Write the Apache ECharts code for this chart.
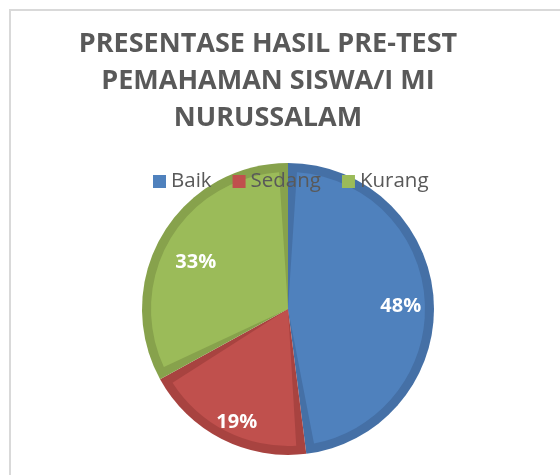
<!DOCTYPE html>
<html>
<head>
<meta charset="utf-8">
<script src="https://cdn.jsdelivr.net/npm/echarts@6/dist/echarts.min.js"></script>
<style>
  html, body { margin: 0; padding: 0; background: #fff; overflow: hidden; }
  #frame { position: absolute; left: 9px; top: 9px; width: 620px; height: 520px; border-left: 2px solid #d9d9d9; border-top: 2px solid #d9d9d9; }
  #chart { position: absolute; left: 0; top: 0; width: 560px; height: 475px; }
</style>
</head>
<body>
<div id="frame"></div>
<div id="chart"></div>
<script>
const categories = ['Baik', 'Sedang', 'Kurang']
const percentValues = [48, 19, 33]
const faceColors = ['#4F81BD', '#C0504D', '#9BBB59']
const edgeColors = ['#4570A6', '#A84340', '#87A24C']

const font = '"Open Sans", "Noto Sans", sans-serif'
const center = [288, 309]
// small nudges so the labels sit where Excel's best-fit put them
const labelNudges = [[0, 4], [0, 13], [5, 11]]

const chart = echarts.init(document.getElementById('chart'))

const sliceData = colors => categories.map((name, i) => ({
  name,
  value: percentValues[i],
  itemStyle: { color: colors[i] }
}))

chart.setOption({
  animation: false,
  title: {
    text: 'PRESENTASE HASIL PRE-TEST\nPEMAHAMAN SISWA/I MI\nNURUSSALAM',
    left: 263,
    top: 21,
    textAlign: 'center',
    textStyle: {
      color: '#595959',
      fontFamily: font,
      fontWeight: 'bold',
      fontSize: 27,
      lineHeight: 37
    }
  },
  legend: {
    data: categories,
    top: 166,
    left: 148,
    icon: 'rect',
    itemWidth: 13,
    itemHeight: 13,
    itemGap: 21,
    selectedMode: false,
    textStyle: { color: '#595959', fontFamily: font, fontSize: 20.5 }
  },
  series: [
    {
      // lighter face of each slice, pulled in from the edges
      type: 'pie',
      z: 3,
      center,
      radius: [0, 137],
      startAngle: 90,
      padAngle: 7.5,
      silent: true,
      label: { show: false },
      labelLine: { show: false },
      data: sliceData(faceColors)
    },
    {
      // darker rim underneath
      type: 'pie',
      z: 2,
      center,
      radius: 146,
      startAngle: 90,
      silent: true,
      label: { show: false },
      labelLine: { show: false },
      data: sliceData(edgeColors)
    },
    {
      // transparent ring that only carries the percent labels
      type: 'pie',
      z: 4,
      center,
      radius: [74, 146],
      startAngle: 90,
      silent: true,
      percentPrecision: 0,
      itemStyle: { color: 'rgba(0,0,0,0)' },
      label: {
        show: true,
        position: 'inside',
        formatter: '{d}%',
        color: '#fff',
        fontFamily: font,
        fontWeight: 'bold',
        fontSize: 20
      },
      labelLine: { show: false },
      data: categories.map((name, i) => ({
        name,
        value: percentValues[i],
        label: { offset: labelNudges[i] }
      }))
    }
  ]
})
</script>
</body>
</html>
